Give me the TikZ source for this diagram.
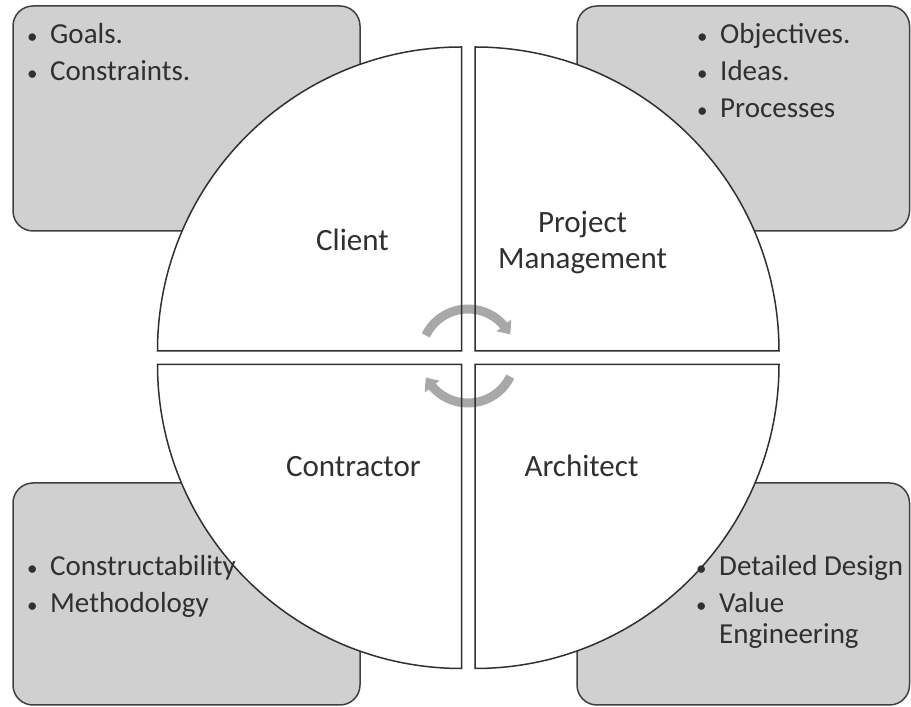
\documentclass[tikz,border=0pt]{standalone}
\usepackage{fontspec}
\setmainfont{Carlito}
\usetikzlibrary{arrows.meta,bending}
\definecolor{boxfill}{HTML}{D0D0D0}
\definecolor{boxline}{HTML}{404040}
\definecolor{quadline}{HTML}{303030}
\definecolor{arrowgray}{HTML}{A8A8A8}
\definecolor{txt}{HTML}{303030}
\begin{document}
\begin{tikzpicture}[x=1pt,y=1pt,
  infobox/.style={draw=boxline,fill=boxfill,line width=1.5pt,rounded corners=20pt},
  quadfill/.style={fill=white},
  quadedge/.style={draw=quadline,line width=1.5pt,line join=miter},
  cyc/.style={draw=arrowgray,line width=9pt,-{Triangle[width=18pt,length=11pt,bend]}},
  rolelabel/.style={text=txt,font=\fontsize{31}{35.5}\selectfont,inner sep=0pt},
  bulletitem/.style={text=txt,font=\fontsize{29}{31}\selectfont,inner sep=0pt,anchor=base west},
]
\useasboundingbox (0,0) rectangle (911,707);
% side boxes
\path[infobox] (13,476) rectangle (360,701);
\path[infobox] (577,476) rectangle (909.5,701);
\path[infobox] (13,2) rectangle (360,224);
\path[infobox] (577,2) rectangle (909.5,224);
% quadrant fills
\def\quadTL{(461.5,356) -- ++(-304,0) arc[start angle=180,end angle=90,radius=304] -- cycle}
\def\quadTR{(475,356) -- ++(0,304) arc[start angle=90,end angle=0,radius=304] -- cycle}
\def\quadBL{(461.5,342.5) -- ++(-304,0) arc[start angle=180,end angle=270,radius=304] -- cycle}
\def\quadBR{(475,342.5) -- ++(0,-304) arc[start angle=270,end angle=360,radius=304] -- cycle}
\fill[quadfill] \quadTL; \fill[quadfill] \quadTR;
\fill[quadfill] \quadBL; \fill[quadfill] \quadBR;
% cycle arrows
\coordinate (hub) at (468,351);
\draw[cyc] (hub) ++(154:47) arc[start angle=154,end angle=27,radius=47];
\draw[cyc] (hub) ++(-26:47) arc[start angle=-26,end angle=-153,radius=47];
% quadrant outlines
\draw[quadedge] \quadTL; \draw[quadedge] \quadTR;
\draw[quadedge] \quadBL; \draw[quadedge] \quadBR;
% role labels
\node[rolelabel,anchor=base] (client) at (352.5,456.3) {Client};
\node[rolelabel,anchor=base,align=center] (pm) at (582.5,438.7) {Project\\Management};
\node[rolelabel,anchor=base] (contractor) at (353.4,230.3) {Contractor};
\node[rolelabel,anchor=base] (architect) at (581.5,230.3) {Architect};
% bullet items
\newcommand{\bul}{\llap{{\fontsize{21}{21}\selectfont\textbullet}\hspace{12.5pt}}}
\node[bulletitem] (goals) at (50,663.5) {\bul Goals.};
\node[bulletitem] (constraints) at (50,626) {\bul Constraints.};
\node[bulletitem] (objectives) at (720,663.5) {\bul Objectives.};
\node[bulletitem] (ideas) at (720,626) {\bul Ideas.};
\node[bulletitem] (processes) at (720,589.5) {\bul Processes};
\node[bulletitem] (constructability) at (50,131) {\bul Constructability};
\node[bulletitem] (methodology) at (50,94) {\bul Methodology};
\node[bulletitem] (detailed) at (719,131) {\bul Detailed Design};
\node[bulletitem,align=left] (value) at (719,63) {\bul Value\\Engineering};
\end{tikzpicture}
\end{document}
